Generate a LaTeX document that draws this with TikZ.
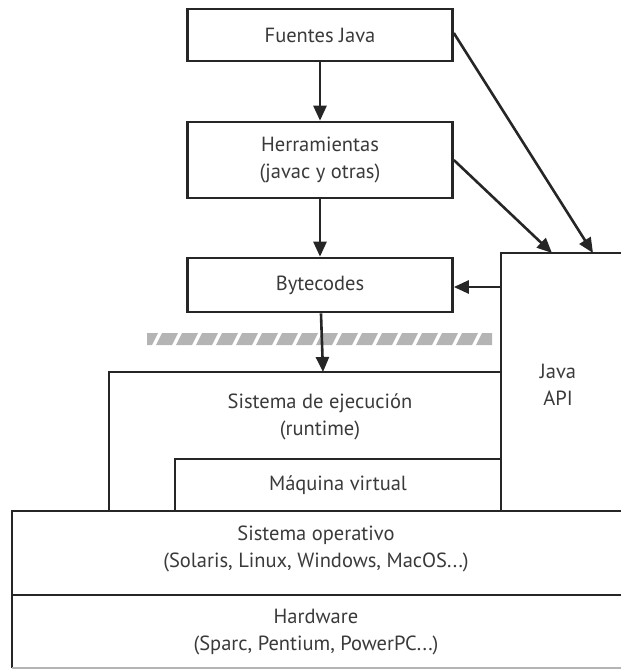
\documentclass[tikz,border=0pt]{standalone}
\usepackage{fontspec}
\setmainfont{PT Sans}
\usetikzlibrary{arrows.meta}
\definecolor{linegray}{HTML}{262626}
\definecolor{textgray}{HTML}{3A3A3A}
\definecolor{hatchgray}{HTML}{B4B4B4}
\tikzset{
    box/.style={draw=linegray, line width=2.6pt, minimum width=265pt, align=center, text=textgray},
    lbl/.style={align=center, text=textgray},
    flow/.style={draw=linegray, line width=2.6pt, -{Triangle[length=15pt,width=13pt]}},
    layer/.style={draw=linegray, line width=2.6pt}
}
\begin{document}
\begin{tikzpicture}[x=1pt,y=-1pt, font=\fontsize{20.5}{27}\selectfont]
            \useasboundingbox (0,0) rectangle (621,669);
            % cajas de arriba
            \node[box, minimum height=52pt] (fuentes) at (320,35) {Fuentes Java};
            \node[box, minimum height=76pt] (herram) at (320,160) {Herramientas\\(javac y otras)};
            \node[box, minimum height=54pt] (bytec) at (320,285) {Bytecodes};
            % franja rayada
            \begin{scope}
                \clip (147,333) rectangle (492,345);
                \foreach \i in {0,...,18}{
                    \fill[hatchgray] (142+\i*20,333) -- ++(16,0) -- ++(-6,12) -- ++(-16,0) -- cycle;
                }
            \end{scope}
            % capas
            \draw[layer] (109,511) -- (109,372) -- (501,372);
            \draw[layer] (175,511) -- (175,459) -- (501,459);
            \draw[layer] (621,253) -- (501,253) -- (501,511);
            \draw[layer] (621,511) -- (12,511) -- (12,668);
            \draw[layer] (12,595) -- (621,595);
            \draw[draw=hatchgray, line width=1.5pt] (12,668) -- (621,668);
            \coordinate (rtop) at (323,372);
            \coordinate (apiA) at (552,253);
            \coordinate (apiB) at (593,253);
            \coordinate (apiW) at (501,287);
            \node[lbl] (runtime) at (320,417) {Sistema de ejecución\\(runtime)};
            \node[lbl] (maquina) at (338,485) {Máquina virtual};
            \node[lbl] (api) at (558,385) {Java\\API};
            \node[lbl] (so) at (316,549) {Sistema operativo\\(Solaris, Linux, Windows, MacOS...)};
            \node[lbl] (hw) at (316,632) {Hardware\\(Sparc, Pentium, PowerPC...)};
            % flechas
            \draw[flow] (fuentes) -- (herram);
            \draw[flow] (herram) -- (bytec);
            \draw[flow] (bytec) -- (rtop);
            \draw[flow] (apiW) -- (bytec.east |- apiW);
            \draw[flow] (fuentes.east) ++(0,-2) -- (apiB);
            \draw[flow] (herram.east) -- (apiA);
        \end{tikzpicture}
\end{document}
